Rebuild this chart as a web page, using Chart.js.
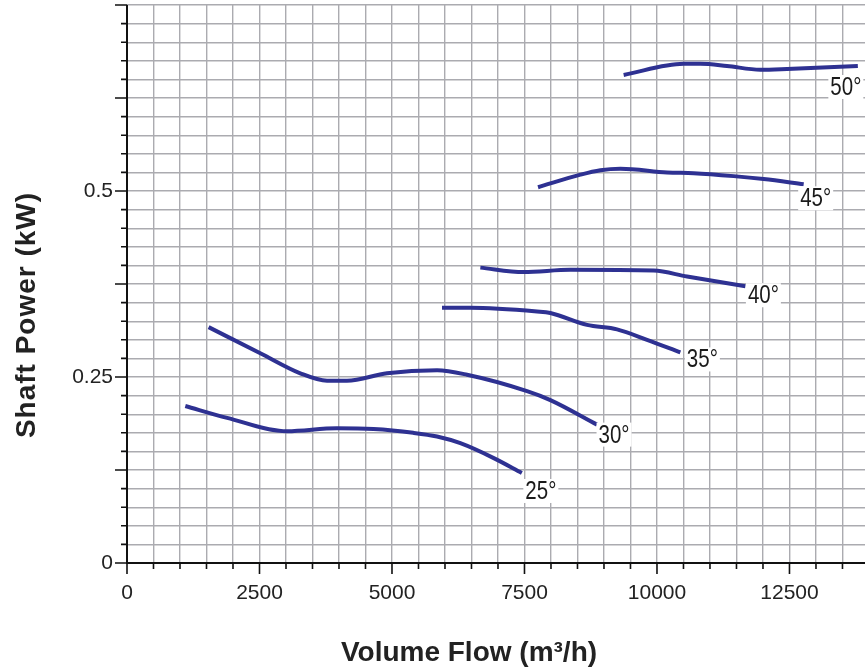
<!DOCTYPE html>
<html><head><meta charset="utf-8">
<script src="https://cdn.jsdelivr.net/npm/chart.js@4/dist/chart.umd.min.js"></script>
<style>html,body{margin:0;padding:0;background:#fff}#wrap{width:865px;height:670px;position:relative}</style>
</head><body><div id="wrap"><canvas id="c"></canvas></div>
<script>
// ---- data ----
const angles = ['25°','30°','35°','40°','45°','50°'];
const flow25  = [1100, 1890, 3020, 3960, 4650, 5400, 5850, 6290, 6920, 7450];
const power25 = [0.211,0.195,0.177,0.181,0.180,0.175,0.170,0.161,0.141,0.121];
const flow30  = [1540, 2515, 3270, 3774, 4150, 4906, 5850, 6416, 7548, 7988, 8869];
const power30 = [0.317,0.282,0.255,0.245,0.245,0.255,0.259,0.253,0.231,0.219,0.186];
const flow35  = [5944, 6478, 7737, 7988, 8680, 9246, 9812, 10441];
const power35 = [0.343,0.343,0.338,0.336,0.320,0.314,0.300,0.283];
const flow40  = [6667, 7484, 8365, 9937, 10567, 11668];
const power40 = [0.397,0.391,0.394,0.393,0.385,0.372];
const flow45  = [7755, 8556, 8932, 9310, 10190, 10692, 11447, 12013, 12768];
const power45 = [0.505,0.522,0.528,0.530,0.525,0.524,0.520,0.516,0.509];
const flow50  = [9371, 10503, 10818, 11321, 11950, 12454, 13790];
const power50 = [0.656,0.671,0.671,0.668,0.663,0.664,0.668];
const xTickLabels = [0, 2500, 5000, 7500, 10000, 12500];
const yTickLabels = [0, 0.25, 0.5];
const xTitle = 'Volume Flow (m³/h)';
const yTitle = 'Shaft Power (kW)';

// ---- styles ----
const LINE = '#2e3192';
const GRID = '#ababb0';
const FONT = '"Liberation Sans", Arial, sans-serif';
const labelOffsets = [[19,18],[17,10],[22,7],[18,9],[12,14],[-12,21]];
const X_MAX = 13925, X_STEP = 500, Y_MAX = 0.75, Y_STEP = 0.025;

const flows = [flow25, flow30, flow35, flow40, flow45, flow50];
const powers = [power25, power30, power35, power40, power45, power50];

const datasets = angles.map((a, i) => ({
  label: a,
  data: flows[i].map((f, j) => ({x: f, y: powers[i][j]})),
  borderColor: LINE, borderWidth: 4, pointRadius: 0,
  cubicInterpolationMode: 'monotone', fill: false, borderCapStyle: 'butt'
}));

const near = (v, arr, eps) => arr.some(l => Math.abs(v - l) < eps);

const decor = {
  id: 'decor',
  afterDatasetsDraw(chart) {
    const {ctx, chartArea: a, scales: {x, y}} = chart;
    ctx.save();
    // axes
    ctx.strokeStyle = '#111'; ctx.lineWidth = 2;
    ctx.beginPath();
    ctx.moveTo(a.left, a.top); ctx.lineTo(a.left, a.bottom); ctx.lineTo(a.right, a.bottom);
    ctx.stroke();
    ctx.lineWidth = 1.6;
    ctx.beginPath();
    x.ticks.forEach(t => {
      const px = x.getPixelForValue(t.value);
      const len = (Math.round(t.value) % 2500 === 0) ? 11 : 6;
      ctx.moveTo(px, a.bottom); ctx.lineTo(px, a.bottom + len);
    });
    y.ticks.forEach(t => {
      const py = y.getPixelForValue(t.value);
      const r = Math.round(t.value * 1000);
      const len = (r % 125 === 0) ? 12 : 6;
      ctx.moveTo(a.left, py); ctx.lineTo(a.left - len, py);
    });
    ctx.stroke();
    // curve labels (condensed look)
    ctx.font = '25px ' + FONT;
    ctx.textAlign = 'center'; ctx.textBaseline = 'middle';
    chart.data.datasets.forEach((ds, i) => {
      const last = ds.data[ds.data.length - 1];
      const cx = x.getPixelForValue(last.x) + labelOffsets[i][0];
      const cy = y.getPixelForValue(last.y) + labelOffsets[i][1];
      const w = ctx.measureText(ds.label).width * 0.82;
      ctx.fillStyle = '#fff';
      ctx.fillRect(cx - w/2 - 2, cy - 12, w + 4, 24);
      ctx.save();
      ctx.translate(cx, cy + 1); ctx.scale(0.82, 1);
      ctx.fillStyle = '#1a1a1a';
      ctx.fillText(ds.label, 0, 0);
      ctx.restore();
    });
    // titles
    ctx.fillStyle = '#222';
    ctx.font = 'bold 28px ' + FONT;
    ctx.fillText(xTitle, 469, 653);
    ctx.translate(27, 315); ctx.rotate(-Math.PI/2);
    try { ctx.letterSpacing = '1px'; } catch (e) {}
    ctx.fillText(yTitle, 0, 0);
    ctx.restore();
  }
};

new Chart(document.getElementById('c'), {
  type: 'line',
  data: {datasets},
  plugins: [decor],
  options: {
    responsive: true, maintainAspectRatio: false, animation: false,
    layout: {padding: {top: 5, right: 0, left: 0, bottom: 0}},
    plugins: {legend: {display: false}, tooltip: {enabled: false}},
    scales: {
      x: {
        type: 'linear', min: 0, max: X_MAX,
        afterBuildTicks: s => {
          const t = [];
          for (let v = 0; v <= X_MAX; v += X_STEP) t.push({value: v});
          s.ticks = t;
        },
        afterFit: s => { s.height = 107; s.paddingLeft = 0; s.paddingRight = 0; },
        ticks: {autoSkip: false, maxRotation: 0, minRotation: 0, padding: 18, color: '#222',
          font: {family: FONT, size: 21},
          callback: v => near(v, xTickLabels, 1) ? String(v) : ''},
        grid: {color: GRID, lineWidth: 1.4, drawTicks: false},
        border: {display: false},
        title: {display: false, text: xTitle}
      },
      y: {
        type: 'linear', min: 0, max: Y_MAX,
        afterBuildTicks: s => {
          const t = [];
          for (let k = 0; k * Y_STEP <= Y_MAX + 1e-9; k++) t.push({value: Math.round(k * Y_STEP * 1000) / 1000});
          s.ticks = t;
        },
        afterFit: s => { s.width = 127; s.paddingTop = 0; s.paddingBottom = 0; },
        ticks: {autoSkip: false, padding: 14, color: '#222',
          font: {family: FONT, size: 21},
          callback: v => near(v, yTickLabels, 1e-6) ? String(Math.round(v*100)/100) : ''},
        grid: {color: GRID, lineWidth: 1.4, drawTicks: false},
        border: {display: false},
        title: {display: false, text: yTitle}
      }
    }
  }
});
</script></body></html>
